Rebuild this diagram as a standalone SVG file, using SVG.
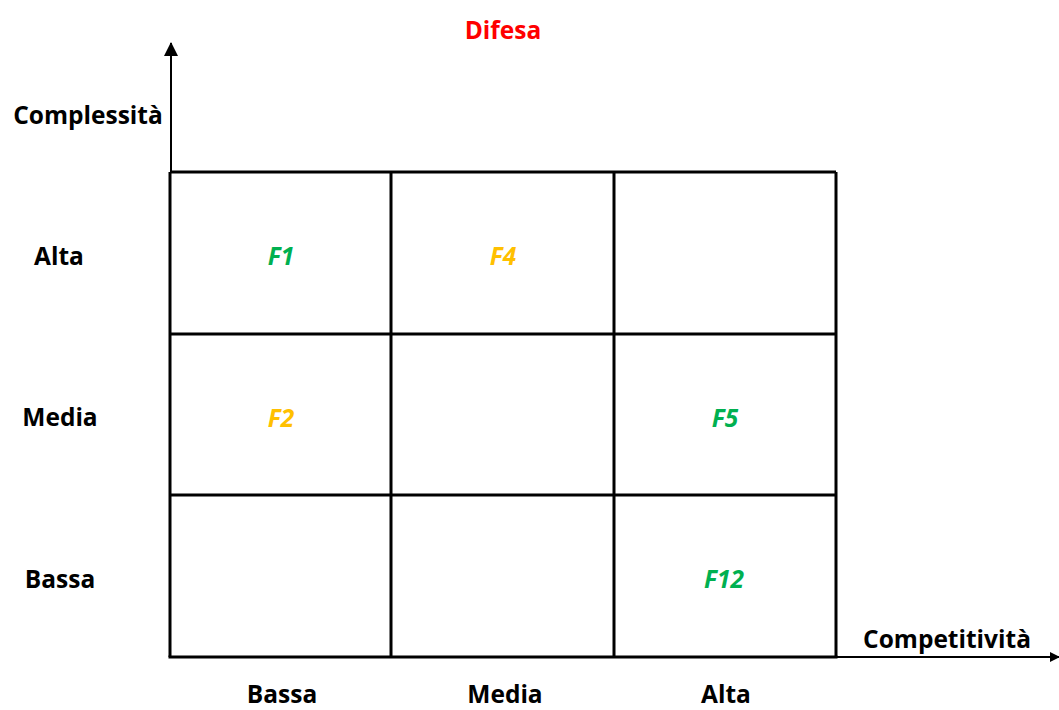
<svg xmlns="http://www.w3.org/2000/svg" width="1059" height="710" viewBox="0 0 1059 710">
<style>
text{font-family:"Open Sans","Liberation Sans",sans-serif;font-weight:bold;font-size:24.5px;text-anchor:middle}
.lbl{fill:#000}
.g{fill:#00B050;font-style:italic}
.y{fill:#FFC000;font-style:italic}
.grid line{stroke:#000;stroke-width:3}
.axis{stroke:#000;stroke-width:2;fill:none}
</style>
<defs>
<marker id="ah" markerWidth="10" markerHeight="10" refX="9" refY="5" orient="auto" markerUnits="userSpaceOnUse"><path d="M0,0 L10,5 L0,10 Z" fill="#000"/></marker>
<marker id="ah2" markerWidth="14" markerHeight="14" refX="13" refY="7" orient="auto" markerUnits="userSpaceOnUse"><path d="M0,0 L14,7 L0,14 Z" fill="#000"/></marker>
</defs>
<g id="connectors">
<line class="axis" x1="171" y1="172" x2="171" y2="43" marker-end="url(#ah2)"/>
<line class="axis" x1="836" y1="657" x2="1059" y2="657" marker-end="url(#ah)"/>
</g>
<g id="grid" class="grid">
<line x1="170" y1="172" x2="836" y2="172"/>
<line x1="170" y1="334" x2="836" y2="334"/>
<line x1="170" y1="495" x2="836" y2="495"/>
<line x1="168.5" y1="657" x2="837.5" y2="657"/>
<line x1="170" y1="172" x2="170" y2="657"/>
<line x1="391" y1="172" x2="391" y2="657"/>
<line x1="614" y1="172" x2="614" y2="657"/>
<line x1="836" y1="172" x2="836" y2="657"/>
</g>
<g id="title"><text x="503" y="39" fill="#FF0000">Difesa</text></g>
<g id="axis-y-label"><text class="lbl" x="88" y="124">Complessità</text></g>
<g id="axis-x-label"><text class="lbl" x="947" y="648">Competitività</text></g>
<g id="row-labels">
<text class="lbl" x="59" y="265">Alta</text>
<text class="lbl" x="60" y="426">Media</text>
<text class="lbl" x="60" y="588">Bassa</text>
</g>
<g id="col-labels">
<text class="lbl" x="282" y="703">Bassa</text>
<text class="lbl" x="505" y="703">Media</text>
<text class="lbl" x="726" y="703">Alta</text>
</g>
<g id="F1"><text class="g" x="281" y="265">F1</text></g>
<g id="F4"><text class="y" x="503" y="265">F4</text></g>
<g id="F2"><text class="y" x="281" y="427">F2</text></g>
<g id="F5"><text class="g" x="725" y="427">F5</text></g>
<g id="F12"><text class="g" x="724" y="588">F12</text></g>
</svg>
